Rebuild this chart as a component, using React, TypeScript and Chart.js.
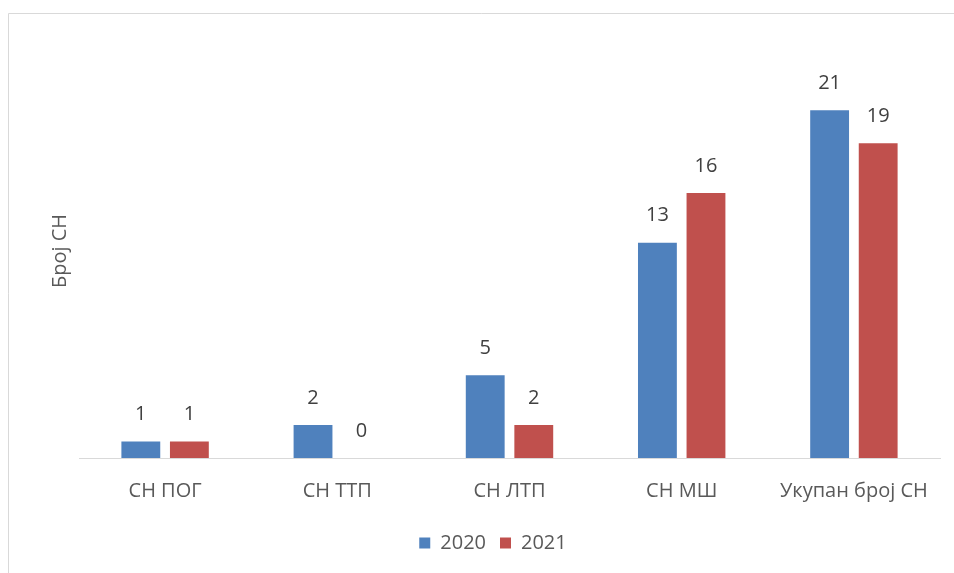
import React, { useEffect, useRef } from "react";
import { Chart, registerables } from "chart.js";

Chart.register(...registerables);

const categories = ["СН ПОГ", "СН ТТП", "СН ЛТП", "СН МШ", "Укупан број СН"];
const values2020 = [1, 2, 5, 13, 21];
const values2021 = [1, 0, 2, 16, 19];
const seriesNames = ["2020", "2021"];
const yTitle = "Број СН";

const FONT = "'Open Sans', 'Noto Sans', sans-serif";

const framePlugin = {
  id: "frame",
  beforeDraw(chart: any) {
    const ctx = chart.ctx;
    ctx.save();
    ctx.fillStyle = "#ffffff";
    ctx.fillRect(0, 0, chart.width, chart.height);
    ctx.strokeStyle = "#d9d9d9";
    ctx.lineWidth = 1;
    ctx.beginPath();
    ctx.moveTo(8.5, chart.height + 5);
    ctx.lineTo(8.5, 13.5);
    ctx.lineTo(chart.width + 5, 13.5);
    ctx.stroke();
    ctx.restore();
  },
  afterDraw(chart: any) {
    const ctx = chart.ctx;
    const area = chart.chartArea;
    ctx.save();
    ctx.translate(60, (area.top + area.bottom) / 2);
    ctx.rotate(-Math.PI / 2);
    ctx.font = `20px ${FONT}`;
    ctx.fillStyle = "#595959";
    ctx.textAlign = "center";
    ctx.textBaseline = "middle";
    ctx.fillText(yTitle, 0, 0);
    ctx.restore();
  },
};

const labelPlugin = {
  id: "barLabels",
  afterDatasetsDraw(chart: any) {
    const ctx = chart.ctx;
    ctx.save();
    ctx.font = `20px ${FONT}`;
    ctx.fillStyle = "#404040";
    ctx.textAlign = "center";
    ctx.textBaseline = "middle";
    chart.data.datasets.forEach((ds: any, i: number) => {
      const meta = chart.getDatasetMeta(i);
      meta.data.forEach((bar: any, j: number) => {
        ctx.fillText(String(ds.data[j]), bar.x, bar.y - 27);
      });
    });
    ctx.restore();
  },
};

export default function App() {
  const ref = useRef<HTMLCanvasElement>(null);
  useEffect(() => {
    document.body.style.margin = "0";
    const chart = new Chart(ref.current!, {
      type: "bar",
      data: {
        labels: categories,
        datasets: [
          { label: seriesNames[0], data: values2020, backgroundColor: "#4F81BD" },
          { label: seriesNames[1], data: values2021, backgroundColor: "#C0504D" },
        ],
      },
      plugins: [framePlugin, labelPlugin],
      options: {
        animation: false,
        responsive: false,
        maintainAspectRatio: false,
        layout: { padding: { left: 46, top: 44, right: 14, bottom: 10 } },
        datasets: {
          bar: { categoryPercentage: 0.564, barPercentage: 0.8 },
        },
        scales: {
          x: {
            grid: { display: false },
            border: { display: true, color: "#d9d9d9", width: 1 },
            ticks: { font: { size: 20, family: FONT }, color: "#595959", padding: 13 },
            afterFit: (s: any) => { s.height = 61; },
          },
          y: {
            display: true,
            min: 0,
            max: 25,
            ticks: { display: false },
            grid: { display: false },
            border: { display: false },
            afterFit: (s: any) => { s.width = 33; },
          },
        },
        plugins: {
          legend: {
            position: "bottom",
            labels: {
              boxWidth: 11,
              boxHeight: 11,
              padding: 14,
              color: "#595959",
              font: { size: 20, family: FONT },
            },
          },
          tooltip: { enabled: false },
        },
      },
    });
    return () => chart.destroy();
  }, []);
  return <canvas ref={ref} width={954} height={573} style={{ display: "block" }} />;
}
